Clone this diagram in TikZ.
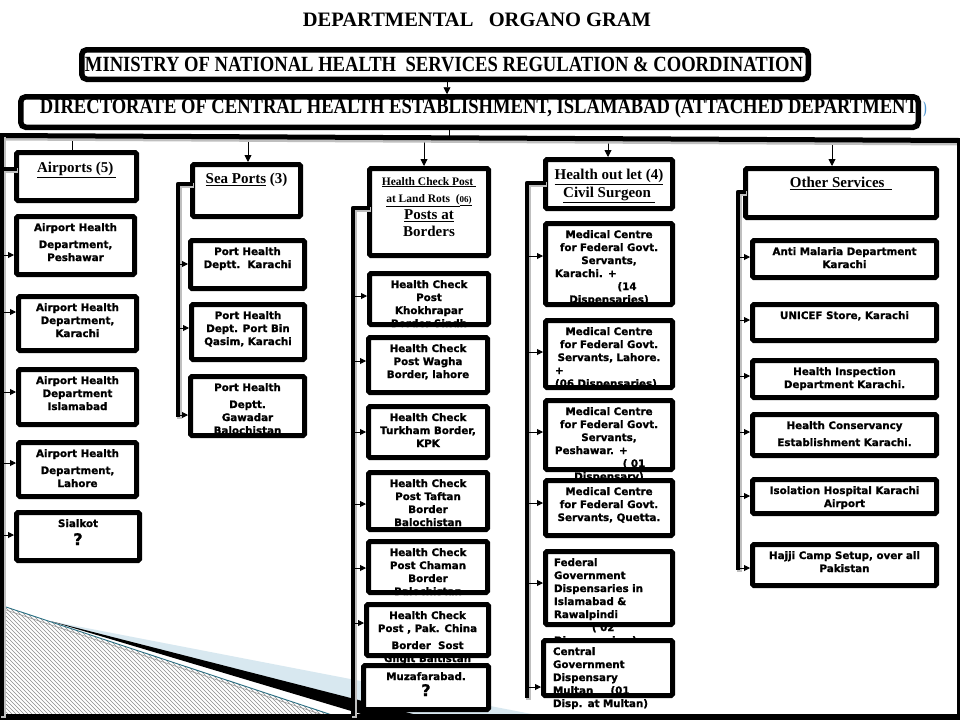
\documentclass[tikz,border=0pt]{standalone}
\usepackage{fontspec}
\usepackage{graphicx}
\setmainfont{Liberation Serif}
\setsansfont{DejaVu Sans}[BoldFeatures={FakeBold=1.2}]
\usetikzlibrary{arrows.meta}
\definecolor{lblue}{RGB}{216,232,240}
\definecolor{tealline}{RGB}{40,110,130}
\definecolor{parblue}{RGB}{80,150,210}
\tikzset{
  boxfill/.style={fill=white, draw=none, inner sep=0pt, outer sep=0pt},
  boxline/.style={draw=black, line width=5pt, rounded corners=1.5pt},
  boxtext/.style={font=\sffamily\bfseries\fontsize{10.3}{13}\selectfont, align=center, inner sep=0pt, anchor=north},
  hdr/.style={font=\rmfamily\bfseries\fontsize{15}{18}\selectfont},
  arr/.style={line width=0.9pt, -{Triangle[length=6pt,width=6pt]}, shorten >=2.5pt},
  toparr/.style={line width=0.9pt, -{Triangle[length=7pt,width=7pt]}, shorten >=2.5pt},
  plainline/.style={line width=0.9pt},
  hatchline/.style={draw=black!45, line width=0.45pt},
  spineline/.style={line width=4.5pt, line join=round,
    preaction={draw=black!25, line width=4.5pt, transform canvas={shift={(1.6pt,-1.6pt)}}}},
  bigbox/.style={line width=5.5pt, rounded corners=5pt},
}
\newcommand\obox[7][]{%
  \node[boxfill, minimum width={(#5-#3-5)*1pt}, minimum height={(#6-#4-5)*1pt}] (#2) at ({(#3+#5)/2},{(#4+#6)/2}) {};
  \node[boxtext,#1] (#2t) at ({(#3+#5)/2},{#4+9}) {#7};
  \draw[boxline] (#2.north west) rectangle (#2.south east);
}
\newcommand\sarr[3]{\draw[arr] (#1 |- 0,#3) -- (#2.west |- 0,#3);}
\begin{document}
\begin{tikzpicture}[x=1pt,y=-1pt]
\useasboundingbox[fill=white] (0,0) rectangle (960,720);
% bottom-left decoration
\fill[lblue] (50,621) -- (542,716) -- (400,716) -- cycle;
\fill[black] (50,621) -- (421,716) -- (368,716) -- cycle;
\begin{scope}
  \clip (3,606) -- (335,716) -- (3,716) -- cycle;
  \foreach \i in {-130,-126,...,340} {\draw[hatchline] (\i,600) -- ++(130,130);}
\end{scope}
\draw[black!40, line width=0.6pt] (3,609) -- (326,716);
\draw[tealline, line width=0.9pt] (3,606) -- (335,716);

% title
\node[anchor=base, inner sep=0pt, font=\rmfamily\bfseries\fontsize{20.5}{24}\selectfont] (title) at (477,27) {DEPARTMENTAL\ \ \ ORGANO GRAM};

% ministry
\node[draw, bigbox, fill=white, inner sep=0pt, minimum width=726.5pt, minimum height=29.5pt] (minbox) at (445,64.5) {};
\node[anchor=base, inner sep=0pt] (mintext) at (444,71.7) {\resizebox{718pt}{14.4pt}{\bfseries MINISTRY OF NATIONAL HEALTH\ \ SERVICES REGULATION \& COORDINATION}};

% directorate
\node[boxfill, minimum width=897.5pt, minimum height=30.5pt] (dirbox) at (469.5,112) {};
\node[anchor=base, inner sep=0pt] (dirtext) at (479,113) {\resizebox{878pt}{15pt}{\bfseries DIRECTORATE OF CENTRAL HEALTH ESTABLISHMENT, ISLAMABAD (ATTACHED DEPARTMENT}};
\draw[bigbox] (dirbox.north west) rectangle (dirbox.south east);
\node[anchor=base, inner sep=0pt, text=parblue] (paren) at (925,113) {\scalebox{0.6}[1]{\rmfamily\bfseries\fontsize{17}{18}\selectfont )}};
\draw[toparr] (minbox.south -| 447,0) -- (dirbox.north -| 447,0);

% ---------- column 1 : airports
\obox[hdr,yshift=-3pt]{air}{14}{150}{139}{203}{\underline{Airports (5)\,}}
\obox{ap1}{14}{214}{137}{277}{Airport Health\\[4pt]Department,\\Peshawar}
\obox{ap2}{16}{294}{139}{353}{Airport Health\\Department,\\Karachi}
\obox{ap3}{16}{367}{139}{427}{Airport Health\\Department\\Islamabad}
\obox{ap4}{16}{440}{139}{499}{Airport Health\\[4pt]Department,\\Lahore}
\obox{ap5}{14}{510}{142}{563}{Sialkot\\[5pt]{\fontsize{16}{16}\selectfont ?}}

% ---------- column 2 : sea ports
\obox[hdr,yshift=-2pt]{sea}{190}{162}{303}{219}{\underline{Sea Ports} (3)}
\obox{sp1}{188}{238}{307}{291}{Port Health\\Deptt.\ \ Karachi}
\obox{sp2}{189}{302}{307}{362}{Port Health\\Dept. Port Bin\\Qasim, Karachi}
\obox{sp3}{188}{374}{307}{438}{Port Health\\[4pt]Deptt.\\Gawadar\\Balochistan}

% ---------- column 3 : health check posts
\obox[font=\rmfamily\bfseries\fontsize{11.5}{17}\selectfont,yshift=-2pt]{hc}{367}{166}{491}{258}{%
\underline{Health Check Post\ }\\
\underline{at Land Rots\ \ (}\underline{\fontsize{9}{17}\selectfont 06)}\\
{\fontsize{15}{17}\selectfont\underline{Posts at}}\\
{\fontsize{15}{17}\selectfont Borders}}
\obox{hc1}{367}{271}{491}{327}{Health Check\\Post\\Khokhrapar\\Border Sindh}
\obox{hc2}{366}{335}{490}{395}{Health Check\\Post Wagha\\Border, lahore}
\obox{hc3}{366}{404}{490}{460}{Health Check\\Turkham Border,\\KPK}
\obox{hc4}{366}{470}{490}{532}{Health Check\\Post Taftan\\Border\\Balochistan}
\obox{hc5}{366}{539}{490}{595}{Health Check\\Post Chaman\\Border\\Balochistan}
\obox{hc6}{364}{602}{491}{658}{Health Check\\Post , Pak. China\\[4pt]Border\ \ Sost\\Gilgit Baltistan}
\obox{hc7}{361}{663}{491}{712}{Muzafarabad.\\[3pt]{\fontsize{16}{16}\selectfont ?}}

% ---------- column 4 : health out lets
\obox[hdr,yshift=-3pt]{ho}{543}{157}{675}{211}{\underline{Health out let (4)}\\\underline{Civil Surgeon\ }}
\obox[text width=108pt]{ho1}{543}{221}{675}{307}{Medical Centre\\for Federal Govt.\\Servants,\\\makebox[108pt][l]{Karachi. +}\\\hspace*{36pt}(14\\Dispensaries)}
\obox[text width=108pt]{ho2}{543}{318}{675}{390}{Medical Centre\\for Federal Govt.\\Servants, Lahore.\\\makebox[108pt][l]{+}\\\makebox[108pt][l]{(06 Dispensaries)}}
\obox[text width=108pt]{ho3}{543}{398}{675}{472}{Medical Centre\\for Federal Govt.\\Servants,\\\makebox[108pt][l]{Peshawar. +}\\\hspace*{50pt}( 01\\Dispensary)}
\obox{ho4}{543}{478}{675}{538}{Medical Centre\\for Federal Govt.\\Servants, Quetta.}
\obox[text width=110pt, align=left]{ho5}{543}{549}{675}{627}{Federal\\Government\\Dispensaries in\\Islamabad \&\\Rawalpindi\\\hspace*{38pt}( 02\\Dispensaries )}
\obox[text width=110pt, align=left]{ho6}{541}{638}{675}{698}{Central\\Government\\Dispensary\\Multan\ \ \ \ \ (01\\Disp. at Multan)}

% ---------- column 5 : other services
\obox[hdr,yshift=-2pt]{os}{743}{166}{939}{220}{\underline{Other Services\ \ }}
\obox{os1}{750}{238}{939}{280}{Anti Malaria Department\\Karachi}
\obox{os2}{750}{302}{939}{343}{UNICEF Store, Karachi}
\obox{os3}{750}{358}{939}{400}{Health Inspection\\Department Karachi.}
\obox{os4}{750}{412}{939}{458}{Health Conservancy\\[4pt]Establishment Karachi.}
\obox{os5}{750}{477}{939}{516}{Isolation Hospital Karachi\\Airport}
\obox{os6}{750}{542}{939}{588}{Hajji Camp Setup, over all\\Pakistan}

% ---------- frame and top bar
\coordinate (barL) at (0,135.5);
\coordinate (barR) at (959,140.5);
\draw[plainline] (dirbox.south -| 449,0) -- (449,137);
\draw[plainline] (72,137) -- (air.north -| 72,0);
\draw[toparr] (248,137) -- (sea.north -| 248,0);
\draw[toparr] (424,138) -- (hc.north -| 424,0);
\draw[toparr] (608,138.5) -- (ho.north -| 608,0);
\draw[toparr] (832,139.5) -- (os.north -| 832,0);
\draw[line width=5pt, preaction={draw=black!25, line width=5pt, transform canvas={shift={(0pt,-2.5pt)}}}] (barL) -- (barR);
\draw[line width=3pt] (958.5,138) -- (958.5,716);
\fill[black] (0,714) rectangle (960,720);

% ---------- spines
\coordinate (spA) at (2,0);
\coordinate (spB) at (178,0);
\coordinate (spC) at (353,0);
\coordinate (spD) at (527,0);
\coordinate (spE) at (738,0);
\draw[spineline] (2,135) -- (2,716);
\draw[spineline] (air.west |- 0,169) -- (spA |- 0,169);
\draw[spineline] (sea.west |- 0,184) -- (spB |- 0,184) -- (spB |- 0,417);
\draw[spineline] (hc.west |- 0,208) -- (spC |- 0,208) -- (spC |- 0,716);
\draw[spineline] (ho.west |- 0,183) -- (spD |- 0,183) -- (spD |- 0,698);
\draw[spineline] (os.west |- 0,192) -- (spE |- 0,192) -- (spE |- 0,570);

% ---------- side arrows
\sarr{spA}{ap1}{255}
\sarr{spA}{ap2}{312}
\sarr{spA}{ap3}{392}
\sarr{spA}{ap4}{463}
\sarr{spA}{ap5}{535}
\sarr{spB}{sp1}{264}
\sarr{spB}{sp2}{328}
\sarr{spB}{sp3}{415}
\sarr{spC}{hc1}{296}
\sarr{spC}{hc2}{361}
\sarr{spC}{hc3}{432}
\sarr{spC}{hc4}{504}
\sarr{spC}{hc5}{568}
\sarr{spC}{hc6}{623}
\sarr{spD}{ho1}{256}
\sarr{spD}{ho2}{352}
\sarr{spD}{ho3}{432}
\sarr{spD}{ho4}{503}
\sarr{spD}{ho5}{583}
\sarr{spD}{ho6}{687}
\sarr{spE}{os1}{257}
\sarr{spE}{os2}{320}
\sarr{spE}{os3}{376}
\sarr{spE}{os4}{432}
\sarr{spE}{os5}{496}
\sarr{spE}{os6}{568}
\end{tikzpicture}
\end{document}
